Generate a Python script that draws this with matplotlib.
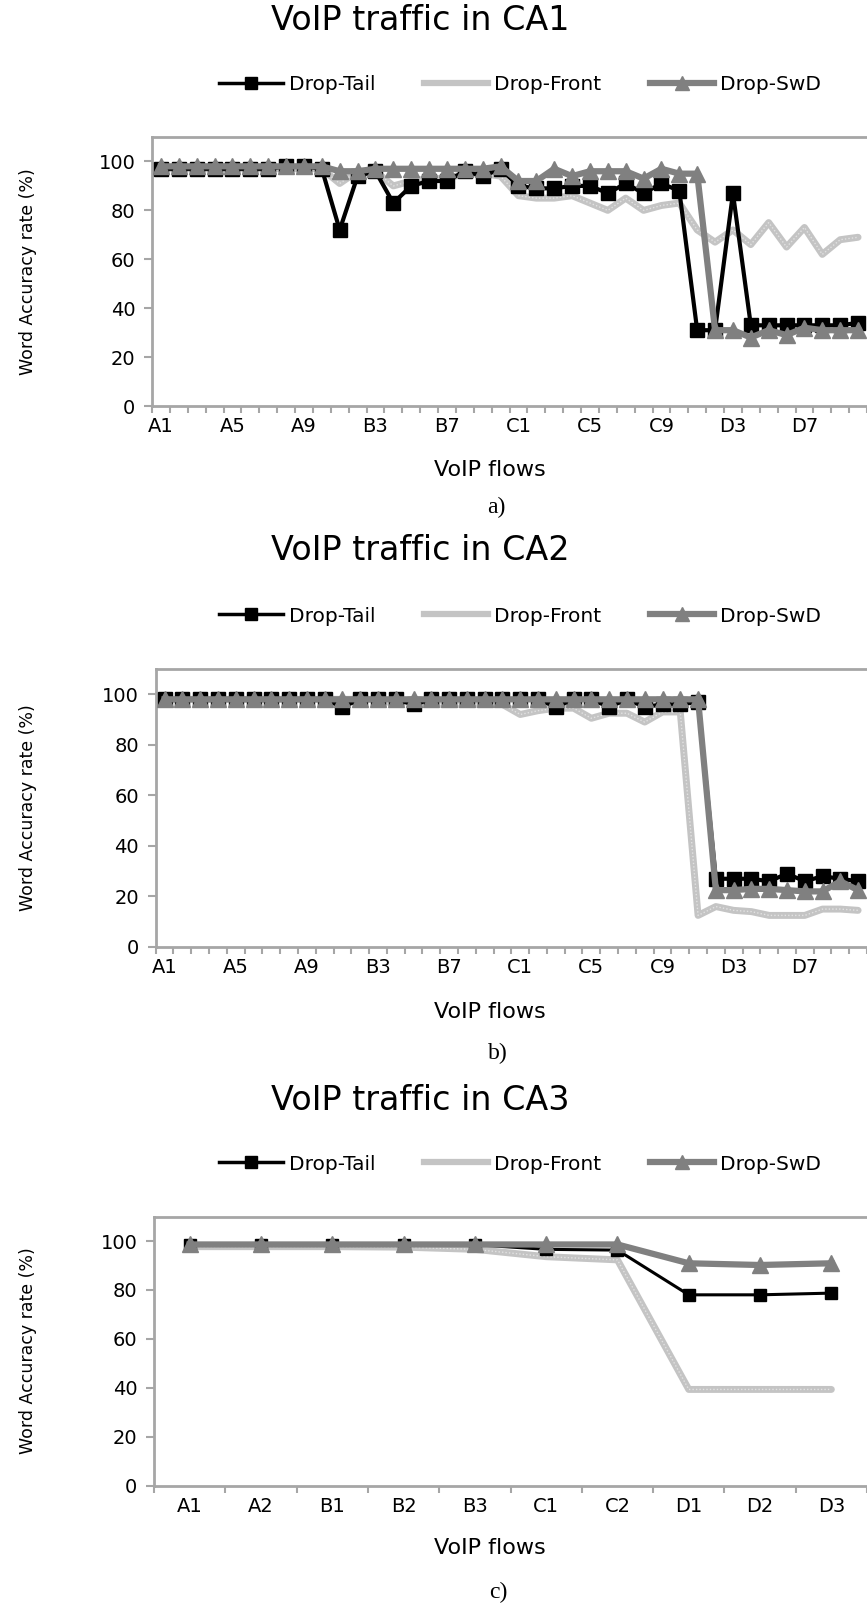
import numpy as np
import matplotlib
matplotlib.use("Agg")
import matplotlib.pyplot as plt

plt.rcParams['font.family'] = ['DejaVu Sans']

# categories for CA1 / CA2 (40 flows) and CA3 (10 flows)
groups = ['A', 'B', 'C', 'D']
flows_ab = [g + str(k) for g in groups for k in range(1, 11)]
flows_c = ['A1', 'A2', 'B1', 'B2', 'B3', 'C1', 'C2', 'D1', 'D2', 'D3']

# CA1
tail_a = [97, 97, 97, 97, 97, 97, 97, 98, 98, 97,
          72, 94, 96, 83, 90, 92, 92, 96, 94, 97,
          90, 89, 89, 90, 90, 87, 91, 87, 91, 88,
          31, 31, 87, 33, 33, 33, 33, 33, 33, 34]
front_a = [97, 97, 97, 97, 97, 97, 97, 97, 97, 97,
           91, 96, 96, 90, 92, 93, 93, 95, 95, 94,
           86, 85, 85, 86, 83, 80, 85, 80, 82, 83,
           72, 67, 72, 66, 75, 65, 73, 62, 68, 69]
swd_a = [98, 98, 98, 98, 98, 98, 98, 98, 98, 98,
         96, 96, 97, 97, 97, 97, 97, 97, 97, 98,
         92, 92, 97, 94, 96, 96, 96, 93, 97, 95,
         95, 31, 31, 28, 31, 29, 32, 31, 31, 31]

# CA2
tail_b = [98, 98, 98, 98, 98, 98, 98, 98, 98, 98,
          95, 98, 98, 98, 96, 98, 98, 98, 98, 98,
          98, 98, 95, 98, 98, 95, 98, 95, 96, 96,
          97, 27, 27, 27, 26, 29, 26, 28, 27, 26]
front_b = [98, 98, 98, 98, 98, 98, 98, 98, 98, 98,
           98, 98, 98, 96, 98, 96, 96, 96, 96, 96,
           92, 93.5, 94.5, 94.5, 90.5, 92.5, 92.5, 89, 93, 93,
           12.5, 16, 14.5, 14, 12.5, 12.5, 12.5, 15, 15, 14.5]
swd_b = [98, 98, 98, 98, 98, 98, 98, 98, 98, 98,
         98, 98, 98, 98, 98, 98, 98, 98, 98, 98,
         98, 98, 98, 98, 98, 98, 98, 98, 98, 98,
         98, 22.5, 22.5, 23, 23, 22.5, 22, 22, 26, 22.5]

# CA3
tail_c = [98.5, 98.5, 98.5, 98.5, 98.5, 96.6, 96.3, 78, 78, 78.7]
front_c = [97.7, 97.7, 97.7, 97.5, 96.6, 93.6, 92.3, 39.3, 39.3, 39.3]
swd_c = [98.6, 98.6, 98.6, 98.6, 98.6, 98.6, 98.6, 90.9, 90.2, 90.9]

W, H = 867, 1611
fig = plt.figure(figsize=(W / 100, H / 100), dpi=100)

GRID = '#a6a6a6'
FRONT = '#c4c4c4'


def fx(px):
    return px / W


def fy(py):
    return 1 - py / H


def panel(rect, xmax, cats, tail, front, swd, step, title, ty, ly, xly, capy, capx, cap,
          tail_lw, tail_ms):
    ax = fig.add_axes(rect)
    x = np.arange(len(cats))
    ax.plot(x, front, color=FRONT, lw=5, solid_capstyle='round', zorder=2)
    # dotted texture of the Excel "Drop-Front" line
    ax.plot(x, front, color='#e2e2e2', lw=1, ls=(0, (1, 1.5)), zorder=2.1)
    ax.plot(x, tail, color='black', lw=tail_lw, marker='s', ms=tail_ms, zorder=3)
    ax.plot(x, swd, color='#808080', lw=4.5, marker='^', ms=11, zorder=4)

    ax.set_xlim(-0.5, xmax)
    ax.set_ylim(0, 110)
    ax.set_yticks(range(0, 101, 20))
    ax.set_xticks(np.arange(-0.5, len(cats), 1.0))
    ax.set_xticklabels([])
    ax.set_xticks(x[::step], minor=True)
    ax.set_xticklabels(cats[::step], minor=True)
    ax.tick_params(axis='x', which='major', direction='out', length=5, width=1.5, color=GRID)
    ax.tick_params(axis='x', which='minor', length=0, pad=8, labelsize=14)
    ax.tick_params(axis='y', direction='out', length=6, width=1.5, color=GRID, labelsize=14, pad=6)
    for s in ['left', 'bottom', 'top']:
        ax.spines[s].set_color(GRID)
        ax.spines[s].set_linewidth(2)
    ax.spines['right'].set_visible(False)

    fig.text(fx(420), fy(ty), title, fontsize=24, ha='center', va='center')
    fig.text(fx(490), fy(xly), 'VoIP flows', fontsize=16, ha='center', va='center')
    fig.text(fx(capx), fy(capy), cap, fontsize=17, ha='center', va='center',
             family='Liberation Serif')
    cy = rect[1] + rect[3] / 2
    fig.text(fx(28), cy, 'Word Accuracy rate (%)', fontsize=12.5, rotation=90,
             ha='center', va='center')

    h1, = ax.plot([], [], color='black', lw=2.5, marker='s', ms=8)
    h2, = ax.plot([], [], color=FRONT, lw=4.5)
    h3, = ax.plot([], [], color='#808080', lw=4.5, marker='^', ms=10)
    fig.legend([h1, h2, h3], ['Drop-Tail', 'Drop-Front', 'Drop-SwD'], loc='center',
               bbox_to_anchor=(fx(520), fy(ly)), ncol=3, frameon=False, fontsize=14.5,
               handlelength=3.2, handletextpad=0.3, columnspacing=2.4)
    return ax


panel([fx(152), fy(406), fx(715), (406 - 137) / H], -0.5 + 715 / 18.04, flows_ab,
      tail_a, front_a, swd_a, 4, 'VoIP traffic in CA1', 21, 85, 470, 507, 496, 'a)', 3, 10)
panel([fx(155.7), fy(947), fx(711.3), (947 - 669) / H], -0.5 + 711.3 / 17.87, flows_ab,
      tail_b, front_b, swd_b, 4, 'VoIP traffic in CA2', 550, 616, 1012, 1053, 498, 'b)', 3, 10)
panel([fx(154), fy(1485.5), fx(713), (1485.5 - 1216.6) / H], -0.5 + 713 / 72.0, flows_c,
      tail_c, front_c, swd_c, 1, 'VoIP traffic in CA3', 1101, 1164, 1548, 1592, 498, 'c)', 2.2, 9)

fig.savefig('out.png', dpi=100)
